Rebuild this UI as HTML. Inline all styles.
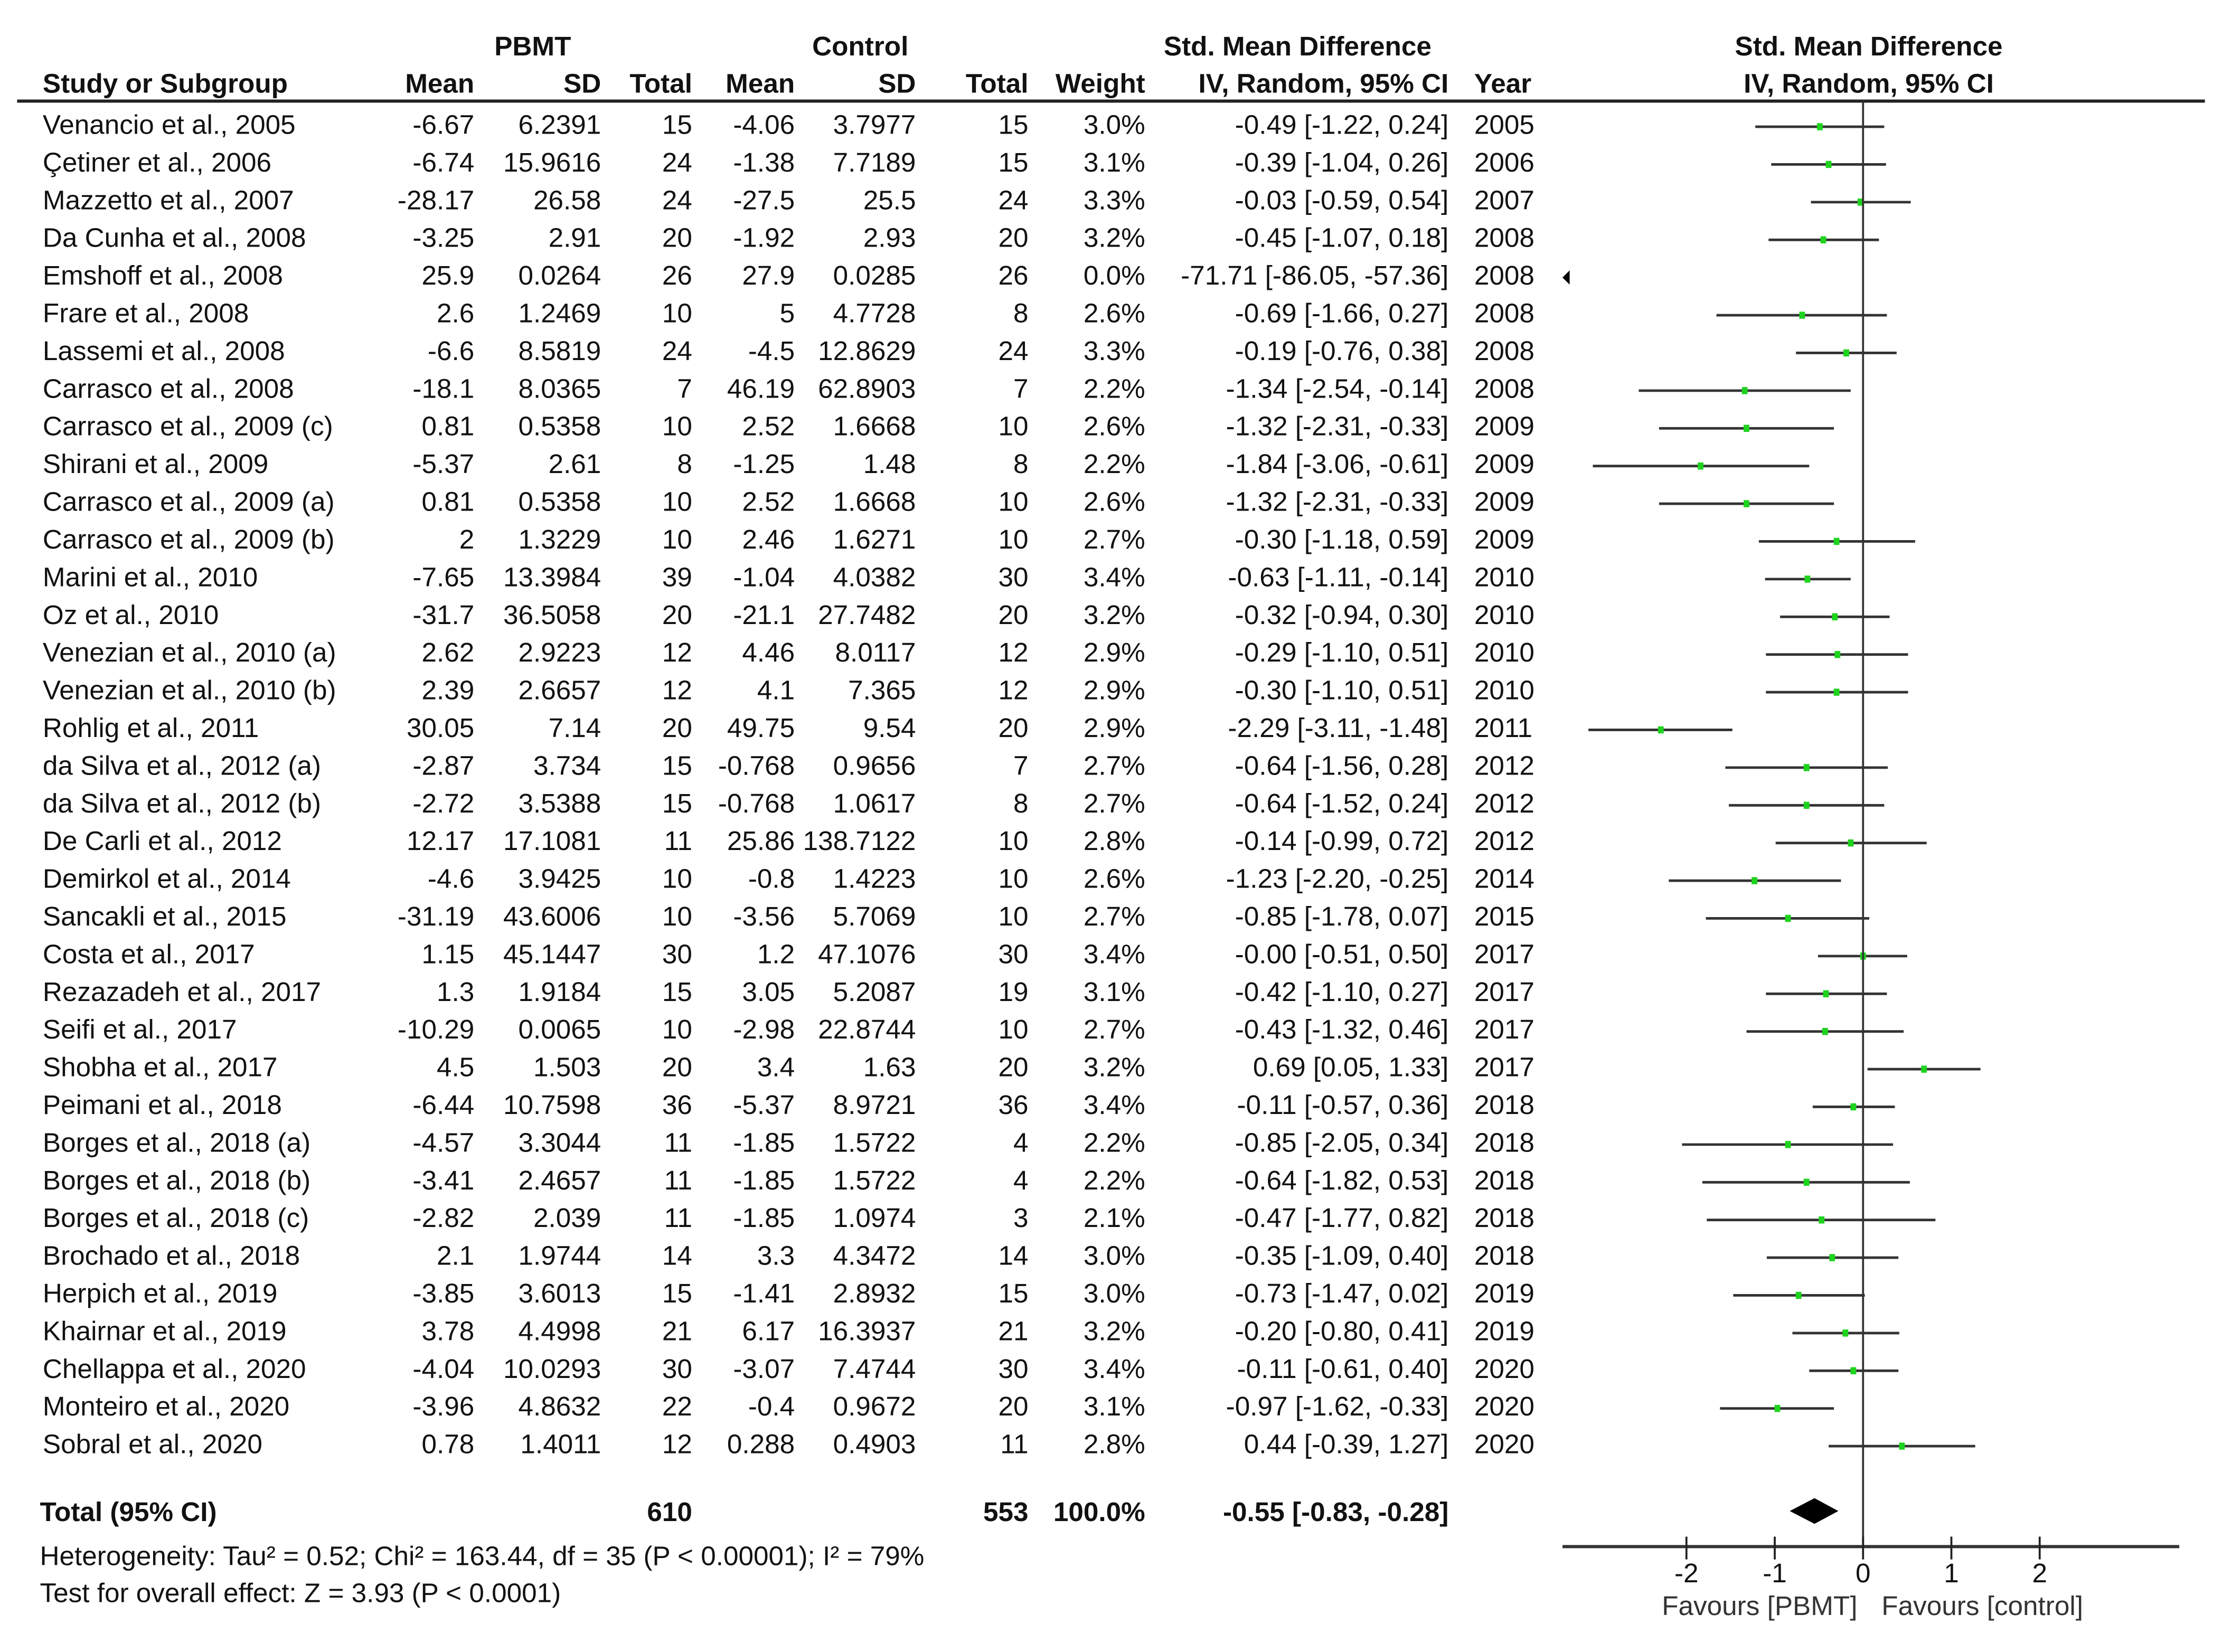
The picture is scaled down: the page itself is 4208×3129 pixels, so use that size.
<!DOCTYPE html>
<html><head><meta charset="utf-8">
<style>
html,body{margin:0;padding:0;background:#fff;}
svg{display:block;}
text{font-family:"Liberation Sans",Arial,sans-serif;font-size:19px;fill:#111;}
.b{font-weight:bold;}
</style></head>
<body>
<svg id="chart" width="4208" height="3129" viewBox="0 0 1560 1160" preserveAspectRatio="none" xmlns="http://www.w3.org/2000/svg">
<g id="hdr">
<text class="b" x="374" y="39" text-anchor="middle">PBMT</text>
<text class="b" x="604" y="39" text-anchor="middle">Control</text>
<text class="b" x="911" y="39" text-anchor="middle">Std. Mean Difference</text>
<text class="b" x="1312" y="39" text-anchor="middle">Std. Mean Difference</text>
<text class="b" x="30" y="65">Study or Subgroup</text>
<text class="b" x="333" y="65" text-anchor="end">Mean</text>
<text class="b" x="422" y="65" text-anchor="end">SD</text>
<text class="b" x="486" y="65" text-anchor="end">Total</text>
<text class="b" x="558" y="65" text-anchor="end">Mean</text>
<text class="b" x="643" y="65" text-anchor="end">SD</text>
<text class="b" x="722" y="65" text-anchor="end">Total</text>
<text class="b" x="804" y="65" text-anchor="end">Weight</text>
<text class="b" x="1017" y="65" text-anchor="end">IV, Random, 95% CI</text>
<text class="b" x="1035" y="65">Year</text>
<text class="b" x="1312" y="65" text-anchor="middle">IV, Random, 95% CI</text>
</g>
<line x1="12" y1="71" x2="1548" y2="71" stroke="#222" stroke-width="2.2"/>
<g id="rows"></g>
<g id="plot"></g>
<g>
<text class="b" x="28" y="1068">Total (95% CI)</text>
<text class="b" x="486" y="1068" text-anchor="end">610</text>
<text class="b" x="722" y="1068" text-anchor="end">553</text>
<text class="b" x="804" y="1068" text-anchor="end">100.0%</text>
<text class="b" x="1017" y="1068" text-anchor="end">-0.55 [-0.83, -0.28]</text>
<text x="28" y="1099">Heterogeneity: Tau² = 0.52; Chi² = 163.44, df = 35 (P &lt; 0.00001); I² = 79%</text>
<text x="28" y="1125">Test for overall effect: Z = 3.93 (P &lt; 0.0001)</text>
</g>
</svg>
<script>
const studies=["Venancio et al., 2005","Çetiner et al., 2006","Mazzetto et al., 2007","Da Cunha et al., 2008","Emshoff et al., 2008","Frare et al., 2008","Lassemi et al., 2008","Carrasco et al., 2008","Carrasco et al., 2009 (c)","Shirani et al., 2009","Carrasco et al., 2009 (a)","Carrasco et al., 2009 (b)","Marini et al., 2010","Oz et al., 2010","Venezian et al., 2010 (a)","Venezian et al., 2010 (b)","Rohlig et al., 2011","da Silva et al., 2012 (a)","da Silva et al., 2012 (b)","De Carli et al., 2012","Demirkol et al., 2014","Sancakli et al., 2015","Costa et al., 2017","Rezazadeh et al., 2017","Seifi et al., 2017","Shobha et al., 2017","Peimani et al., 2018","Borges et al., 2018 (a)","Borges et al., 2018 (b)","Borges et al., 2018 (c)","Brochado et al., 2018","Herpich et al., 2019","Khairnar et al., 2019","Chellappa et al., 2020","Monteiro et al., 2020","Sobral et al., 2020"];
const pMean=["-6.67","-6.74","-28.17","-3.25","25.9","2.6","-6.6","-18.1","0.81","-5.37","0.81","2","-7.65","-31.7","2.62","2.39","30.05","-2.87","-2.72","12.17","-4.6","-31.19","1.15","1.3","-10.29","4.5","-6.44","-4.57","-3.41","-2.82","2.1","-3.85","3.78","-4.04","-3.96","0.78"];
const pSD=["6.2391","15.9616","26.58","2.91","0.0264","1.2469","8.5819","8.0365","0.5358","2.61","0.5358","1.3229","13.3984","36.5058","2.9223","2.6657","7.14","3.734","3.5388","17.1081","3.9425","43.6006","45.1447","1.9184","0.0065","1.503","10.7598","3.3044","2.4657","2.039","1.9744","3.6013","4.4998","10.0293","4.8632","1.4011"];
const pN=[15,24,24,20,26,10,24,7,10,8,10,10,39,20,12,12,20,15,15,11,10,10,30,15,10,20,36,11,11,11,14,15,21,30,22,12];
const cMean=["-4.06","-1.38","-27.5","-1.92","27.9","5","-4.5","46.19","2.52","-1.25","2.52","2.46","-1.04","-21.1","4.46","4.1","49.75","-0.768","-0.768","25.86","-0.8","-3.56","1.2","3.05","-2.98","3.4","-5.37","-1.85","-1.85","-1.85","3.3","-1.41","6.17","-3.07","-0.4","0.288"];
const cSD=["3.7977","7.7189","25.5","2.93","0.0285","4.7728","12.8629","62.8903","1.6668","1.48","1.6668","1.6271","4.0382","27.7482","8.0117","7.365","9.54","0.9656","1.0617","138.7122","1.4223","5.7069","47.1076","5.2087","22.8744","1.63","8.9721","1.5722","1.5722","1.0974","4.3472","2.8932","16.3937","7.4744","0.9672","0.4903"];
const cN=[15,15,24,20,26,8,24,7,10,8,10,10,30,20,12,12,20,7,8,10,10,10,30,19,10,20,36,4,4,3,14,15,21,30,20,11];
const weights=["3.0%","3.1%","3.3%","3.2%","0.0%","2.6%","3.3%","2.2%","2.6%","2.2%","2.6%","2.7%","3.4%","3.2%","2.9%","2.9%","2.9%","2.7%","2.7%","2.8%","2.6%","2.7%","3.4%","3.1%","2.7%","3.2%","3.4%","2.2%","2.2%","2.1%","3.0%","3.0%","3.2%","3.4%","3.1%","2.8%"];
const smd=[-0.49,-0.39,-0.03,-0.45,-71.71,-0.69,-0.19,-1.34,-1.32,-1.84,-1.32,-0.30,-0.63,-0.32,-0.29,-0.30,-2.29,-0.64,-0.64,-0.14,-1.23,-0.85,-0.00,-0.42,-0.43,0.69,-0.11,-0.85,-0.64,-0.47,-0.35,-0.73,-0.20,-0.11,-0.97,0.44];
const ciLo=[-1.22,-1.04,-0.59,-1.07,-86.05,-1.66,-0.76,-2.54,-2.31,-3.06,-2.31,-1.18,-1.11,-0.94,-1.10,-1.10,-3.11,-1.56,-1.52,-0.99,-2.20,-1.78,-0.51,-1.10,-1.32,0.05,-0.57,-2.05,-1.82,-1.77,-1.09,-1.47,-0.80,-0.61,-1.62,-0.39];
const ciHi=[0.24,0.26,0.54,0.18,-57.36,0.27,0.38,-0.14,-0.33,-0.61,-0.33,0.59,-0.14,0.30,0.51,0.51,-1.48,0.28,0.24,0.72,-0.25,0.07,0.50,0.27,0.46,1.33,0.36,0.34,0.53,0.82,0.40,0.02,0.41,0.40,-0.33,1.27];
const years=[2005,2006,2007,2008,2008,2008,2008,2008,2009,2009,2009,2009,2010,2010,2010,2010,2011,2012,2012,2012,2014,2015,2017,2017,2017,2017,2018,2018,2018,2018,2018,2019,2019,2020,2020,2020];
const total=[-0.55,-0.83,-0.28];
const ticks=[-2,-1,0,1,2];
const ticks_labels=["-2","-1","0","1","2"];

const NS="http://www.w3.org/2000/svg";
const X0=1308,UNIT=62,XMIN=1097,XMAX=1530;
const xs=v=>X0+v*UNIT;
const ys=i=>88+i*26.47;
function mk(tag,parent,attrs,txt){const e=document.createElementNS(NS,tag);for(const k in attrs)e.setAttribute(k,attrs[k]);if(txt!==undefined)e.textContent=txt;parent.appendChild(e);return e;}
const rows=document.getElementById('rows'),plot=document.getElementById('plot');
const f=v=>((v<0||Object.is(v,-0))?"-":"")+Math.abs(v).toFixed(2);
studies.forEach((s,i)=>{
  const y=ys(i)+6;
  const g=mk('g',rows,{});
  
  
  const cells=[[30,s,'start'],[333,pMean[i],'end'],[422,pSD[i],'end'],[486,pN[i],'end'],[558,cMean[i],'end'],[643,cSD[i],'end'],[722,cN[i],'end'],[804,weights[i],'end'],[1017,f(smd[i])+" ["+f(ciLo[i])+", "+f(ciHi[i])+"]",'end'],[1035,years[i],'start']];
  cells.forEach(c=>{const t=mk('text',g,{x:c[0],y:y,'text-anchor':c[2]},String(c[1]));
    
    });
  const yc=ys(i)+1;
  if(ciHi[i]<(XMIN-X0)/UNIT){
    const a=mk('polygon',plot,{points:`${XMIN},${yc} ${XMIN+5},${yc-5} ${XMIN+5},${yc+5}`,fill:'#000'});
    
    
  } else {
    const l=mk('line',plot,{x1:xs(ciLo[i]),x2:xs(ciHi[i]),y1:yc,y2:yc,stroke:'#333','stroke-width':1.8});
    
    
    const m=mk('rect',plot,{x:xs(smd[i])-2,y:yc-2.5,width:4,height:5,fill:'#1ed31e'});
    
    
  }
});
const zl=mk('line',plot,{x1:X0,x2:X0,y1:71,y2:1086,stroke:'#333','stroke-width':1.4});


const ax=mk('line',plot,{x1:XMIN,x2:XMAX,y1:1086,y2:1086,stroke:'#333','stroke-width':2.2});


ticks.forEach((t,k)=>{
  const tl=mk('line',plot,{x1:xs(t),x2:xs(t),y1:1079,y2:1095,stroke:'#222','stroke-width':1.4});
  
  
  const tt=mk('text',plot,{x:xs(t),y:1111,'text-anchor':'middle'},ticks_labels[k]);
  
  
});
const ty=1061;
const d=mk('polygon',plot,{points:`${xs(total[1])},${ty} ${xs(total[0])},${ty-9} ${xs(total[2])},${ty} ${xs(total[0])},${ty+9}`,fill:'#000'});


const fl=mk('text',plot,{x:1304,y:1134,'text-anchor':'end',style:'fill:#333'},'Favours [PBMT]');


const fr=mk('text',plot,{x:1321,y:1134,'text-anchor':'start',style:'fill:#333'},'Favours [control]');


</script>
</body></html>
